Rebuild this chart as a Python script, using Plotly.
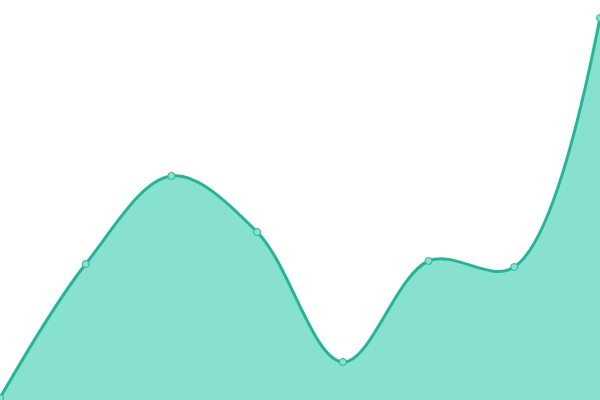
import plotly.graph_objects as go

x_values = [0, 1, 2, 3, 4, 5, 6, 7]
y_values = [2, 136, 224, 168, 38, 139, 133, 382]

fig = go.Figure()
fig.add_trace(go.Scatter(
    x=x_values, y=y_values,
    mode="lines+markers",
    line=dict(shape="spline", smoothing=1, color="#1fb896", width=3),
    marker=dict(size=7, color="#88e0cf", line=dict(color="#1fb896", width=1)),
    fill="tozeroy", fillcolor="#88e0cf",
    cliponaxis=False,
))
fig.update_layout(
    width=600, height=400,
    margin=dict(l=0, r=0, t=0, b=0),
    paper_bgcolor="white", plot_bgcolor="white",
    showlegend=False,
    xaxis=dict(visible=False, range=[0, 7], fixedrange=True),
    yaxis=dict(visible=False, range=[0, 400], fixedrange=True),
)
fig.write_html(
    "out.html",
    config={"displayModeBar": False},
    post_script="document.body.style.margin='0';document.body.style.overflow='hidden';",
)
